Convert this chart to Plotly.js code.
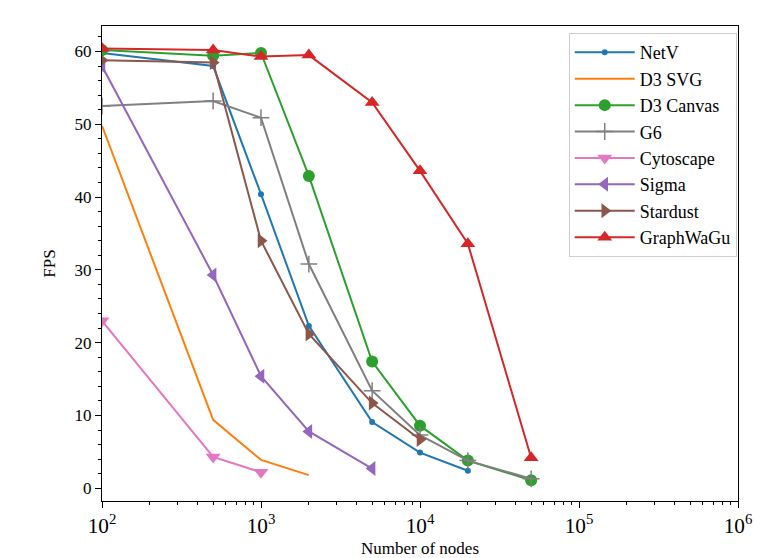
<!DOCTYPE html>
<html>
<head>
<meta charset="utf-8">
<script src="https://cdn.plot.ly/plotly-3.0.1.min.js"></script>
<style>html,body{margin:0;padding:0;background:#fff;}</style>
</head>
<body>
<div id="chart" style="width:775px;height:558px;"></div>
<script>
// Graph sizes (number of nodes) and measured frame rates per library
const nodesA = [100, 500, 1000, 2000, 5000, 10000, 20000];
const nodesB = [100, 500, 1000, 2000];
const nodesC = [100, 500, 1000, 2000, 5000, 10000, 20000, 50000];
const nodesD = [100, 500, 1000];
const nodesE = [100, 500, 1000, 2000, 5000];
const nodesF = [100, 500, 1000, 2000, 5000, 10000];

const fpsNetV      = [59.8, 58.0, 40.4, 22.3, 9.1, 4.9, 2.4];
const fpsD3SVG     = [49.8, 9.4, 3.9, 1.8];
const fpsD3Canvas  = [60.2, 59.4, 59.8, 42.9, 17.4, 8.6, 3.8, 1.1];
const fpsG6        = [52.5, 53.2, 50.9, 30.8, 13.4, 7.3, 3.8, 1.3];
const fpsCytoscape = [23.0, 4.3, 2.2];
const fpsSigma     = [58.0, 29.3, 15.4, 7.8, 2.7];
const fpsStardust  = [58.8, 58.5, 34.0, 21.2, 11.7, 6.7];
const fpsGraphWaGu = [60.4, 60.2, 59.3, 59.5, 53.0, 43.6, 33.6, 4.2];

const SERIF = 'Liberation Serif';
function f(size) { return {family: SERIF, size: size, color: '#000000'}; }

function series(name, x, y, color, symbol, size, extra) {
  const t = {
    type: 'scatter', mode: 'lines+markers', name: name, x: x, y: y,
    line: {color: color, width: 2},
    marker: {color: color, symbol: symbol, size: size}
  };
  return Object.assign(t, extra || {});
}

const traces = [
  series('NetV', nodesA, fpsNetV, '#1f77b4', 'circle', 6),
  series('D3 SVG', nodesB, fpsD3SVG, '#ff7f0e', 'circle', 0, {mode: 'lines'}),
  series('D3 Canvas', nodesC, fpsD3Canvas, '#2ca02c', 'circle', 12),
  series('G6', nodesC, fpsG6, '#7f7f7f', 'cross-thin', 12,
    {marker: {color: '#7f7f7f', symbol: 'cross-thin', size: 12, line: {color: '#7f7f7f', width: 1.5}}}),
  series('Cytoscape', nodesD, fpsCytoscape, '#e377c2', 'triangle-down', 13),
  series('Sigma', nodesE, fpsSigma, '#9467bd', 'triangle-left', 13),
  series('Stardust', nodesF, fpsStardust, '#8c564b', 'triangle-right', 13),
  series('GraphWaGu', nodesC, fpsGraphWaGu, '#d62728', 'triangle-up', 13)
];

const layout = {
  width: 775, height: 558,
  margin: {l: 102, r: 37, t: 26, b: 57},
  paper_bgcolor: '#ffffff', plot_bgcolor: '#ffffff',
  font: f(16),
  showlegend: true,
  legend: {
    x: 0.998, y: 0.985, xanchor: 'right', yanchor: 'top',
    bgcolor: 'rgba(255,255,255,0.8)', bordercolor: '#cccccc', borderwidth: 1,
    font: f(18),
    itemwidth: 60,
    tracegroupgap: 0
  },
  xaxis: {
    type: 'log', range: [2, 6],
    exponentformat: 'power', dtick: 1,
    showgrid: false, zeroline: false,
    showline: true, linecolor: '#000000', linewidth: 1.2, mirror: true,
    ticks: 'outside', ticklen: 6, tickwidth: 1, tickcolor: '#000000',
    minor: {ticks: 'outside', ticklen: 3, tickcolor: '#000000', showgrid: false},
    tickfont: f(17),
    title: {text: 'Number of nodes', font: f(17), standoff: 12}
  },
  yaxis: {
    range: [-1.75, 63.5],
    tickvals: [0, 10, 20, 30, 40, 50, 60],
    showgrid: false, zeroline: false,
    showline: true, linecolor: '#000000', linewidth: 1.2, mirror: true,
    ticks: 'outside', ticklen: 6, tickwidth: 1, tickcolor: '#000000',
    minor: {dtick: 2, tick0: 0, ticks: 'outside', ticklen: 3, tickcolor: '#000000', showgrid: false},
    tickfont: f(17),
    title: {text: 'FPS', font: f(17), standoff: 14}
  }
};

Plotly.newPlot('chart', traces, layout, {displayModeBar: false, staticPlot: true});
</script>
</body>
</html>
